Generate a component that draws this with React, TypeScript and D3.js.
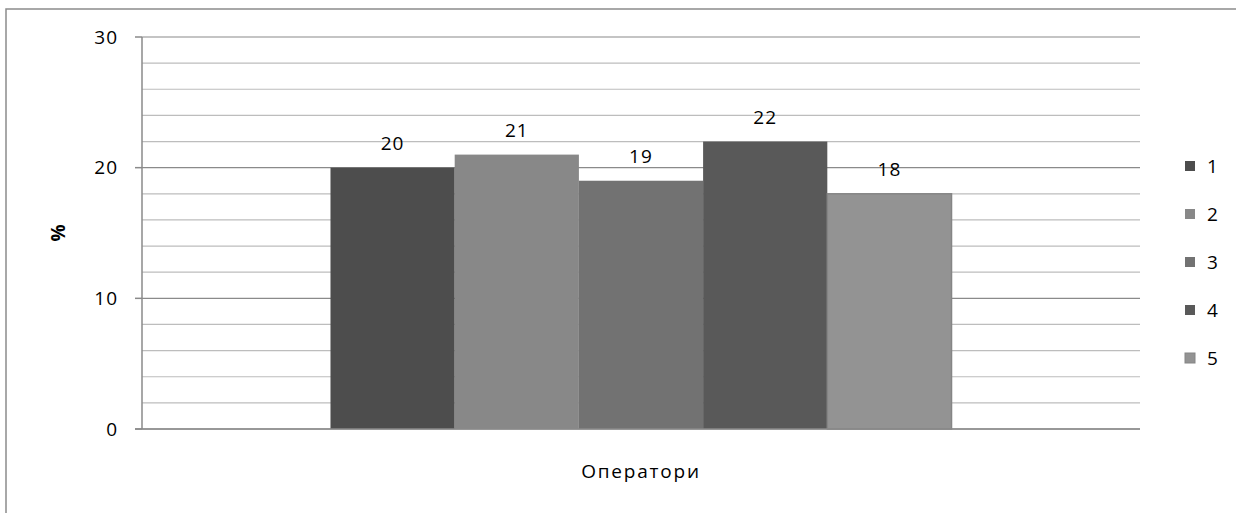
import React from "react";
import * as d3 from "d3";

const categories = ["Оператори"];
const seriesNames = ["1", "2", "3", "4", "5"];
const seriesValues = [20, 21, 19, 22, 18];
const seriesColors = ["#4d4d4d", "#888888", "#727272", "#595959", "#939393"];
const yTicks = [0, 10, 20, 30];
const gridValues = d3.range(0, 31, 2);

const W = 1236;
const H = 513;
const plot = { left: 142, right: 1140, top: 37, bottom: 429 };
const font = "'Open Sans', 'Noto Sans', sans-serif";
const fs = 19;

export default function App() {
  const y = d3.scaleLinear().domain([0, 30]).range([plot.bottom, plot.top]);
  const x0 = d3
    .scaleBand<string>()
    .domain(categories)
    .range([plot.left, plot.right])
    .paddingInner(0)
    .paddingOuter(0.3035);
  const x1 = d3
    .scaleBand<string>()
    .domain(seriesNames)
    .range([0, x0.bandwidth()])
    .padding(0);

  const legendY = d3
    .scalePoint<string>()
    .domain(seriesNames)
    .range([166, 358]);

  return (
    <svg
      width={W}
      height={H}
      style={{ position: "absolute", left: 0, top: 0, display: "block", background: "#fff" }}
      fontFamily={font}
    >
      {/* chart frame (runs past the right and bottom edges) */}
      <path d={`M6,${H + 10} V9 H${W + 10}`} fill="none" stroke="#8c8c8c" strokeWidth={1.5} />

      {/* gridlines */}
      {gridValues.map((v) => {
        const major = v % 10 === 0;
        return (
          <line
            key={v}
            x1={plot.left}
            x2={plot.right}
            y1={y(v)}
            y2={y(v)}
            stroke={major ? "#8a8a8a" : "#bdbdbd"}
            strokeWidth={1.2}
          />
        );
      })}

      {/* y axis */}
      <line x1={plot.left} x2={plot.left} y1={plot.top} y2={plot.bottom} stroke="#8a8a8a" strokeWidth={1.5} />
      {yTicks.map((t) => (
        <g key={t}>
          <line x1={plot.left - 7} x2={plot.left} y1={y(t)} y2={y(t)} stroke="#8a8a8a" strokeWidth={1.5} />
          <text x={118} y={y(t)} dy="0.35em" textAnchor="end" fontSize={fs} letterSpacing={1} fill="#000">
            {t}
          </text>
        </g>
      ))}

      {/* bars */}
      {categories.map((c) => (
        <g key={c} transform={`translate(${x0(c)},0)`}>
          {seriesNames.map((s, i) => {
            const v = seriesValues[i];
            const bx = x1(s) ?? 0;
            return (
              <g key={s}>
                <rect
                  x={bx}
                  y={y(v)}
                  width={x1.bandwidth()}
                  height={y(0) - y(v)}
                  fill={seriesColors[i]}
                  stroke={i === 4 ? "#858585" : "none"}
                  strokeWidth={1.5}
                />
                <text
                  x={bx + x1.bandwidth() / 2}
                  y={y(v) - 24}
                  dy="0.35em"
                  textAnchor="middle"
                  fontSize={fs}
                  letterSpacing={1}
                  fill="#000"
                >
                  {v}
                </text>
              </g>
            );
          })}
        </g>
      ))}

      {/* x axis baseline */}
      <line x1={plot.left - 7} x2={plot.right} y1={y(0)} y2={y(0)} stroke="#8a8a8a" strokeWidth={1.5} />

      {/* axis titles */}
      <text
        transform={`translate(58,${(plot.top + plot.bottom) / 2}) rotate(-90)`}
        textAnchor="middle"
        dy="0.35em"
        fontSize={fs}
        fontWeight="bold"
        fill="#000"
      >
        %
      </text>
      <text
        x={(plot.left + plot.right) / 2}
        y={471}
        dy="0.35em"
        textAnchor="middle"
        fontSize={fs}
        letterSpacing={1.8}
        fill="#000"
      >
        {categories[0]}
      </text>

      {/* legend */}
      {seriesNames.map((s, i) => (
        <g key={s} transform={`translate(1185,${legendY(s)})`}>
          <rect
            x={0}
            y={-5}
            width={10}
            height={10}
            fill={seriesColors[i]}
            stroke={i === 4 ? "#858585" : "none"}
            strokeWidth={1}
          />
          <text x={22} y={0} dy="0.35em" fontSize={fs} fill="#000">
            {s}
          </text>
        </g>
      ))}
    </svg>
  );
}
